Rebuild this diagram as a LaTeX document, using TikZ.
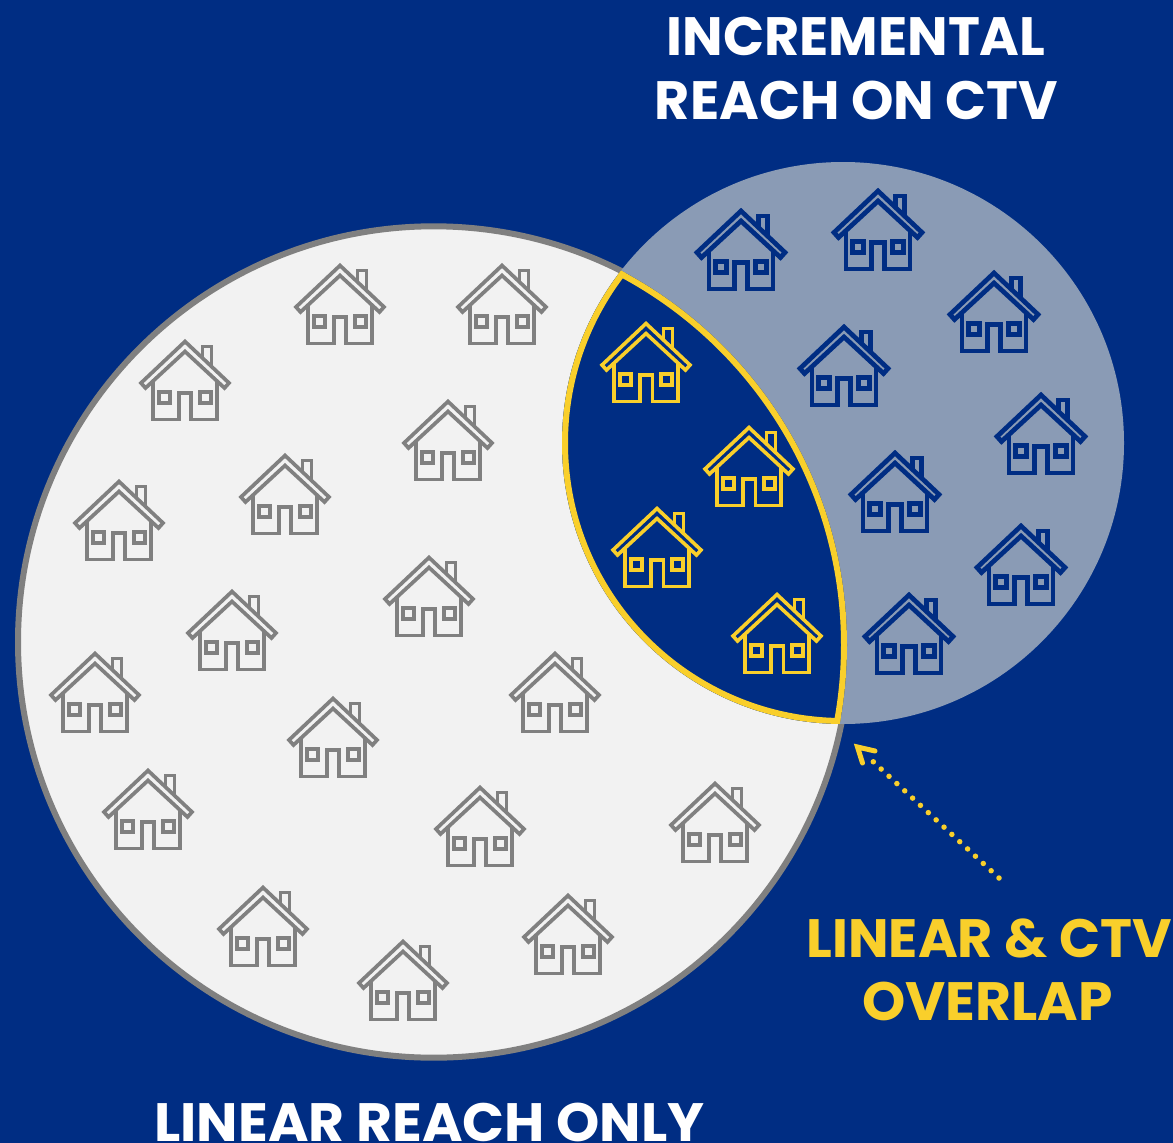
\documentclass[tikz,border=0pt]{standalone}
\usepackage{fontspec}
\setmainfont{Poppins}
\definecolor{navy}{HTML}{002D83}
\definecolor{pale}{HTML}{F2F2F2}
\definecolor{slate}{HTML}{8A9BB5}
\definecolor{edgegray}{HTML}{808080}
\definecolor{gold}{HTML}{F9CF2B}
\tikzset{
  x=1pt,y=1pt,
  house/.pic={
    \draw[line join=miter,pic actions]
      (0,0)--(-44,-41.5)--(-39.5,-46.5)--(0,-10)--(39.5,-46.5)--(44,-41.5)--cycle;
    \draw[pic actions] (17.5,-16)--(17.5,-5)--(26.5,-5)--(26.5,-24);
    \draw[pic actions] (-32,-38)--(-32,-78)--(-6.3,-78)--(-6.3,-51.7)--(6.3,-51.7)--(6.3,-78)--(32,-78)--(32,-38);
    \draw[pic actions] (-25.8,-50.5) rectangle (-14.8,-61.5);
    \draw[pic actions] (14.8,-50.5) rectangle (25.8,-61.5);
  },
  greyhouse/.style={draw=edgegray,line width=3.7pt},
  bluehouse/.style={draw=navy,line width=4.7pt},
  goldhouse/.style={draw=gold,line width=3.6pt},
  title/.style={font=\bfseries\fontsize{54}{60}\selectfont,anchor=base,inner sep=0pt,text=white},
  goldtitle/.style={title,text=gold},
}
\begin{document}
\begin{tikzpicture}
\useasboundingbox (0,0) rectangle (1173,-1143);
\clip (0,0) rectangle (1173,-1143);
\fill[navy] (0,0) rectangle (1173,-1143);
\draw[fill=pale,draw=edgegray,line width=6pt] (433.7,-642) circle[radius=415.7];
\fill[slate] (843,-443) circle[radius=281];
\begin{scope}
\clip (424,-645) circle[radius=423];
\clip (843,-443) circle[radius=281];
\fill[navy] (0,0) rectangle (1173,-1143);
\draw[gold,line width=12pt] (424,-645) circle[radius=423];
\draw[gold,line width=12pt] (843,-443) circle[radius=281];
\end{scope}
% grey houses
\foreach \i/\x/\y in {1/340/265.5,2/502/265.5,3/185/341.5,4/448/401.5,5/285/455.5,6/119/481.5,7/429/557.5,8/232/591.5,9/95/653.5,10/555/653.5,11/333/698.5,12/148/770.5,13/480/787.5,14/715/783.5,15/263/887.5,16/568/895.5,17/403/941.5}
  \pic[greyhouse] (grey\i) at (\x,-\y) {house};
% blue houses
\foreach \i/\x/\y in {1/741/211,2/878/191,3/994/273,4/844/327,5/1041/395,6/895/453,7/1021/526,8/909/595}
  \pic[bluehouse] (blue\i) at (\x,-\y) {house};
% gold houses
\foreach \i/\x/\y in {1/646/323.5,2/749/427.5,3/657/508.5,4/777/594.5}
  \pic[goldhouse] (gold\i) at (\x,-\y) {house};
\node[title] (incr) at (856,-55) {INCREMENTAL};
\node[title] (ctv) at (856.5,-119) {REACH ON CTV};
\node[goldtitle] (both) at (989,-957) {LINEAR \& CTV};
\node[goldtitle] (over) at (987.5,-1020) {\scalebox{1.02}[1]{OVERLAP}};
\node[title] (only) at (429.5,-1141) {\scalebox{1.02}[1]{LINEAR REACH ONLY}};
\coordinate (dotstart) at (999,-878);
\coordinate (dotend) at (866,-755);
\coordinate (tip) at (857.5,-747);
\coordinate (armA) at (862.5,-763);
\coordinate (armB) at (875,-751);
\draw[gold,line width=5.5pt,line cap=round,dash pattern=on 0pt off 10.7pt] (dotstart) -- (dotend);
\draw[gold,line width=5pt,line cap=round,line join=miter] (armA) -- (tip) -- (armB);
\end{tikzpicture}
\end{document}
